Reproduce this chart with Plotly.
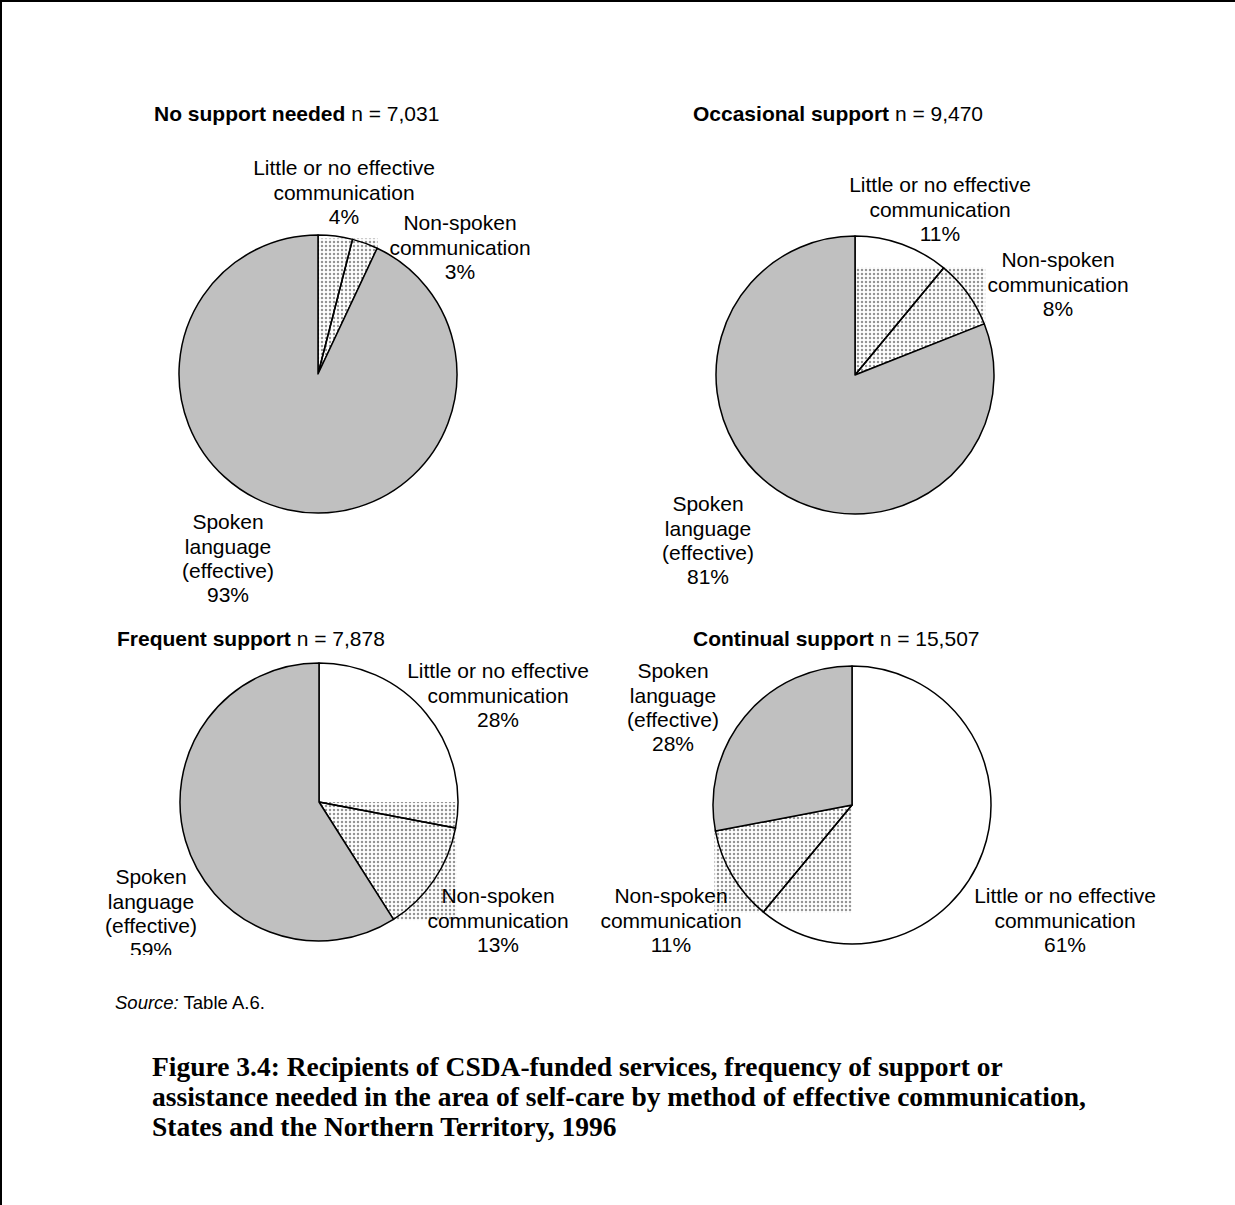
import math
import plotly.graph_objects as go

# ---- data -------------------------------------------------------------
groups = ["No support needed", "Occasional support", "Frequent support", "Continual support"]
group_n = [7031, 9470, 7878, 15507]
categories = [
    "Little or no effective communication",
    "Non-spoken communication",
    "Spoken language (effective)",
]
category_lines = [
    ["Little or no effective", "communication"],
    ["Non-spoken", "communication"],
    ["Spoken", "language", "(effective)"],
]
little_or_none = [4, 11, 28, 61]
non_spoken = [3, 8, 13, 11]
spoken = [93, 81, 59, 28]

source_note = "<i>Source:</i> Table A.6."
caption_lines = [
    "Figure 3.4: Recipients of CSDA-funded services, frequency of support or",
    "assistance needed in the area of self-care by method of effective communication,",
    "States and the Northern Territory, 1996",
]

# ---- layout geometry (pixels) ----------------------------------------
W, H = 1235, 1205
PANEL_BOTTOM = 955          # lower edge of the chart panel (labels are clipped there)
R = 139                     # pie radius
centres = [(318, 374), (855, 375), (319, 802), (852, 805)]
title_pos = [(152, 113), (691, 113), (115, 638), (691, 638)]
# per pie: anchor (centre x, first line y) for little / non-spoken / spoken labels
label_pos = [
    [(344, 170), (460, 225), (228, 524)],
    [(940, 187), (1058, 262), (708, 506)],
    [(498, 673), (498, 898), (151, 879)],
    [(1065, 898), (671, 898), (673, 673)],
]
LINE_STEP = 24.3
FONT_FAMILY = "Liberation Sans, Arial, sans-serif"
LABEL_FONT = dict(family=FONT_FAMILY, size=21, color="black")
GREY = "#c0c0c0"
CLEAR = "rgba(0,0,0,0)"


def px_x(x):
    return x / W


def px_y(y):
    return 1 - y / H


def sector_box(cx, cy, r, f0, f1):
    """Bounding box of a clockwise sector starting at 12 o'clock fraction f0..f1."""
    a0, a1 = f0 * 2 * math.pi, f1 * 2 * math.pi
    angles = [a0, a1] + [k * math.pi / 2 for k in range(5) if a0 < k * math.pi / 2 < a1]
    pts = [(cx, cy)] + [(cx + r * math.sin(a), cy - r * math.cos(a)) for a in angles]
    xs = [p[0] for p in pts]
    ys = [p[1] for p in pts]
    return min(xs), max(xs), min(ys), max(ys)


fig = go.Figure()

# dotted fill behind the non-spoken slice
for i in range(len(groups)):
    cx, cy = centres[i]
    total = little_or_none[i] + non_spoken[i] + spoken[i]
    f0 = little_or_none[i] / total
    f1 = (little_or_none[i] + non_spoken[i]) / total
    x0, x1, y0, y1 = sector_box(cx, cy, R + 1, f0, f1)
    fig.add_trace(go.Scatter(
        x=[x0, x1, x1, x0, x0], y=[y0, y0, y1, y1, y0],
        mode="lines", line=dict(width=0), fill="toself", fillcolor="white",
        fillpattern=dict(shape=".", size=4, solidity=0.3, fgcolor="#2a2a2a", bgcolor="white"),
        hoverinfo="skip", showlegend=False,
    ))

# slice labels
lx, ly, lt = [], [], []
for i in range(len(groups)):
    pcts = [little_or_none[i], non_spoken[i], spoken[i]]
    for k in range(3):
        ax, ay = label_pos[i][k]
        lines = category_lines[k] + [f"{pcts[k]}%"]
        for j, t in enumerate(lines):
            lx.append(ax)
            ly.append(ay + j * LINE_STEP)
            lt.append(t)
fig.add_trace(go.Scatter(
    x=lx, y=ly, text=lt, mode="text", textposition="middle center",
    textfont=LABEL_FONT, cliponaxis=True, hoverinfo="skip", showlegend=False,
))

# the pies
for i in range(len(groups)):
    cx, cy = centres[i]
    fig.add_trace(go.Pie(
        labels=categories,
        values=[little_or_none[i], non_spoken[i], spoken[i]],
        sort=False, direction="clockwise", rotation=0,
        textinfo="none", hoverinfo="label+percent", showlegend=False,
        marker=dict(colors=[CLEAR, CLEAR, GREY], line=dict(color="black", width=1.5)),
        domain=dict(x=[px_x(cx - R), px_x(cx + R)], y=[px_y(cy + R), px_y(cy - R)]),
    ))

annotations = []
for i, g in enumerate(groups):
    tx, ty = title_pos[i]
    annotations.append(dict(
        x=px_x(tx), y=px_y(ty), xref="paper", yref="paper",
        xanchor="left", yanchor="middle", showarrow=False,
        text=f"<b>{g}</b> n = {group_n[i]:,}", font=LABEL_FONT,
    ))

annotations.append(dict(
    x=px_x(113), y=px_y(1002), xref="paper", yref="paper",
    xanchor="left", yanchor="middle", showarrow=False,
    text=source_note, font=dict(family=FONT_FAMILY, size=18.5, color="black"),
))

for j, line in enumerate(caption_lines):
    annotations.append(dict(
        x=px_x(150), y=px_y(1066 + 30 * j), xref="paper", yref="paper",
        xanchor="left", yanchor="middle", showarrow=False,
        text=f"<b>{line}</b>",
        font=dict(family="Liberation Serif, Times New Roman, serif", size=27.5, color="black"),
    ))

shapes = [
    dict(type="line", xref="paper", yref="paper", x0=0, x1=1, y0=px_y(1), y1=px_y(1),
         line=dict(color="black", width=2)),
    dict(type="line", xref="paper", yref="paper", x0=px_x(1), x1=px_x(1), y0=0, y1=1,
         line=dict(color="black", width=2)),
]

fig.update_layout(
    width=W, height=H,
    margin=dict(l=0, r=0, t=0, b=0),
    paper_bgcolor="white", plot_bgcolor="rgba(0,0,0,0)",
    xaxis=dict(range=[0, W], domain=[0, 1], visible=False, fixedrange=True),
    yaxis=dict(range=[PANEL_BOTTOM, 0], domain=[px_y(PANEL_BOTTOM), 1], visible=False, fixedrange=True),
    annotations=annotations,
    shapes=shapes,
    showlegend=False,
)

fig.write_html("out.html")
